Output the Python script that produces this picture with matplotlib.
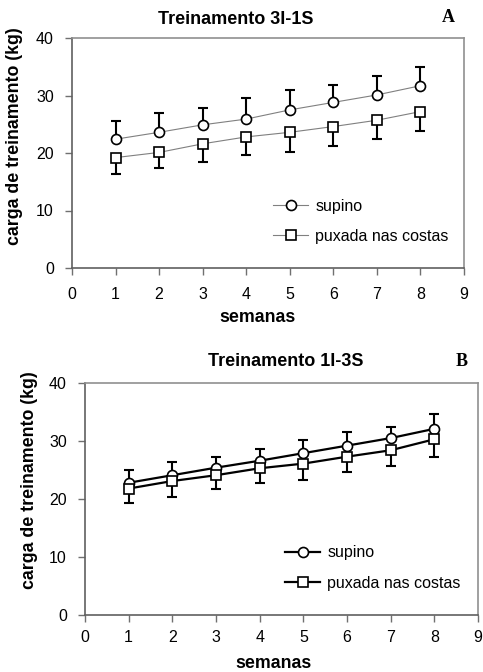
import matplotlib
matplotlib.use("Agg")
import matplotlib.pyplot as plt
import numpy as np

plt.rcParams['font.family'] = ['Liberation Sans', 'DejaVu Sans']

semanas = [1, 2, 3, 4, 5, 6, 7, 8]

# painel A - treinamento 3I-1S
supino_a = [22.4, 23.6, 24.9, 25.9, 27.5, 28.8, 30.1, 31.7]
supino_a_dp = [3.2, 3.3, 3.0, 3.6, 3.4, 3.1, 3.3, 3.3]
puxada_a = [19.2, 20.1, 21.6, 22.8, 23.6, 24.6, 25.7, 27.2]
puxada_a_dp = [2.8, 2.7, 3.2, 3.1, 3.5, 3.4, 3.3, 3.3]

# painel B - treinamento 1I-3S
supino_b = [22.8, 24.1, 25.4, 26.6, 27.9, 29.2, 30.5, 32.1]
supino_b_dp = [2.2, 2.2, 1.8, 2.1, 2.3, 2.3, 2.0, 2.5]
puxada_b = [21.8, 23.1, 24.1, 25.3, 26.1, 27.3, 28.4, 30.3]
puxada_b_dp = [2.5, 2.8, 2.3, 2.6, 2.9, 2.7, 2.7, 3.1]

W, H = 483, 672
fig = plt.figure(figsize=(W / 100, H / 100), dpi=100)


def painel(rect, sup, sup_dp, pux, pux_dp, line_color, line_w, titulo, letra,
           tpos, lpos, leg_anchor, xpad):
    l, t, r, b = rect
    ax = fig.add_axes([l / W, 1 - b / H, (r - l) / W, (b - t) / H])
    zeros = np.zeros(len(semanas))
    ax.errorbar(semanas, sup, yerr=[zeros, sup_dp], fmt='none', ecolor='black',
                elinewidth=1.5, capsize=3.3, capthick=1.5, zorder=2)
    ax.errorbar(semanas, pux, yerr=[pux_dp, zeros], fmt='none', ecolor='black',
                elinewidth=1.5, capsize=3.3, capthick=1.5, zorder=2)
    ax.plot(semanas, sup, color=line_color, lw=line_w, marker='o', ms=7.2,
            mfc='white', mec='black', mew=1.2, zorder=3, label='supino')
    ax.plot(semanas, pux, color=line_color, lw=line_w, marker='s', ms=6.5,
            mfc='white', mec='black', mew=1.2, zorder=3, label='puxada nas costas')
    ax.set_xlim(0, 9)
    ax.set_ylim(0, 40)
    ax.set_xticks(range(0, 10))
    ax.set_yticks(range(0, 41, 10))
    for s in ax.spines.values():
        s.set_color('#909090')
        s.set_linewidth(1.2)
    ax.spines['left'].set_color('#606060')
    ax.spines['bottom'].set_color('#606060')
    ax.tick_params(direction='out', length=5, width=1, color='#707070',
                   labelsize=11.5)
    ax.tick_params(axis='x', pad=xpad)
    ax.tick_params(axis='y', pad=8)
    ax.legend(loc='upper left', bbox_to_anchor=leg_anchor, frameon=False,
              fontsize=11.5, handlelength=2.2, handletextpad=0.45,
              labelspacing=0.95, borderpad=0, borderaxespad=0)
    fig.text(tpos[0] / W, 1 - tpos[1] / H, titulo, ha='center', va='center',
             fontsize=13, fontweight='bold')
    fig.text(lpos[0] / W, 1 - lpos[1] / H, letra, ha='center', va='center',
             fontsize=13, fontweight='bold', family='Liberation Serif')
    return ax


ax_a = painel((72, 38, 464, 268), supino_a, supino_a_dp, puxada_a, puxada_a_dp,
              '#808080', 0.8, 'Treinamento 3I-1S', 'A', (236, 19), (448, 18),
              (0.513, 0.302), 9)
ax_b = painel((85, 383, 478, 615), supino_b, supino_b_dp, puxada_b, puxada_b_dp,
              'black', 1.6, 'Treinamento 1I-3S', 'B', (286, 361), (462, 361),
              (0.509, 0.30), 5.5)

fig.text(258 / W, 1 - 317 / H, 'semanas', ha='center', va='center', fontsize=12.8, fontweight='bold')
fig.text(273 / W, 1 - 663 / H, 'semanas', ha='center', va='center', fontsize=12.8, fontweight='bold')
fig.text(15 / W, 1 - 136 / H, 'carga de treinamento (kg)', ha='center', va='center',
         rotation=90, fontsize=12.8, fontweight='bold')
fig.text(30 / W, 1 - 480 / H, 'carga de treinamento (kg)', ha='center', va='center',
         rotation=90, fontsize=12.8, fontweight='bold')

fig.savefig('out.png', dpi=100)
